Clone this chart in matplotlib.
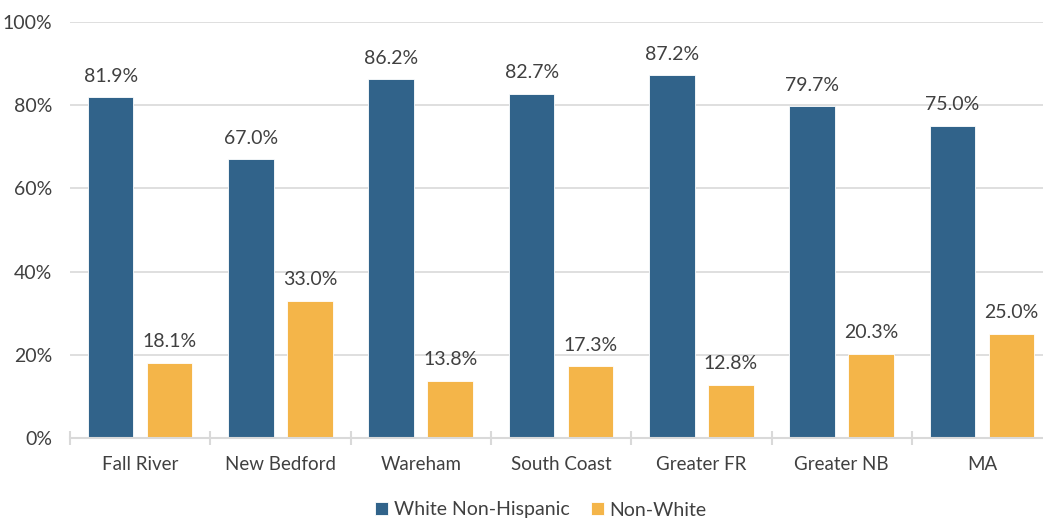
import matplotlib
matplotlib.use("Agg")
import matplotlib.pyplot as plt
import numpy as np

categories = ["Fall River", "New Bedford", "Wareham", "South Coast", "Greater FR", "Greater NB", "MA"]
white_nh = [81.9, 67.0, 86.2, 82.7, 87.2, 79.7, 75.0]
non_white = [18.1, 33.0, 13.8, 17.3, 12.8, 20.3, 25.0]
series_names = ["White Non-Hispanic", "Non-White"]
yticks = [0, 20, 40, 60, 80, 100]

plt.rcParams['font.family'] = ['Lato', 'DejaVu Sans']
BLUE = "#31638A"
ORANGE = "#F4B549"
TXT = "#404040"
GRID = "#D9D9D9"

fig = plt.figure(figsize=(10.43, 5.2), dpi=100)
W, H = 1043, 520
left, right_px = 70, 70 + 7 * 140.3
ax = fig.add_axes([left / W, (H - 438) / H, (right_px - left) / W, 416 / H])

x = np.arange(len(categories))
off, bw = 0.21, 0.325
b1 = ax.bar(x - off, white_nh, bw, color=BLUE, edgecolor="white", linewidth=0.6, label=series_names[0], zorder=3)
b2 = ax.bar(x + off, non_white, bw, color=ORANGE, edgecolor="white", linewidth=0.6, label=series_names[1], zorder=3)

for bars, vals in ((b1, white_nh), (b2, non_white)):
    for r, v in zip(bars, vals):
        ax.annotate(f"{v:.1f}%", (r.get_x() + r.get_width() / 2, v), xytext=(0, 9),
                    textcoords="offset points", ha="center", va="bottom",
                    fontsize=14, color=TXT, zorder=4)

ax.set_xlim(-0.5, len(categories) - 0.5)
ax.set_ylim(0, 100)
ax.set_yticks(yticks)
ax.set_yticklabels([f"{t}%" for t in yticks])
ax.yaxis.grid(True, color=GRID, linewidth=1.2, zorder=0)
ax.set_axisbelow(True)
for s in ["left", "right", "top"]:
    ax.spines[s].set_visible(False)
ax.spines["bottom"].set_color(GRID)
ax.spines["bottom"].set_linewidth(1.5)
ax.spines["bottom"].set_zorder(5)

ax.set_xticks(x)
ax.set_xticklabels(categories)
ax.tick_params(axis="x", which="major", length=0, pad=13, labelsize=13.5, labelcolor=TXT)
ax.set_xticks(np.arange(len(categories) + 1) - 0.5, minor=True)
ax.tick_params(axis="x", which="minor", direction="inout", length=10, width=1.5, color=GRID)
ax.tick_params(axis="y", length=0, pad=13, labelsize=14, labelcolor=TXT)

fig.legend(handles=[b1, b2], labels=series_names, loc="center", bbox_to_anchor=(541 / W, 1 - 510 / H),
           ncol=2, frameon=False, fontsize=14, labelcolor=TXT, handlelength=0.65, handleheight=0.65,
           columnspacing=1.1, handletextpad=0.3)

fig.savefig("out.png", dpi=100)
